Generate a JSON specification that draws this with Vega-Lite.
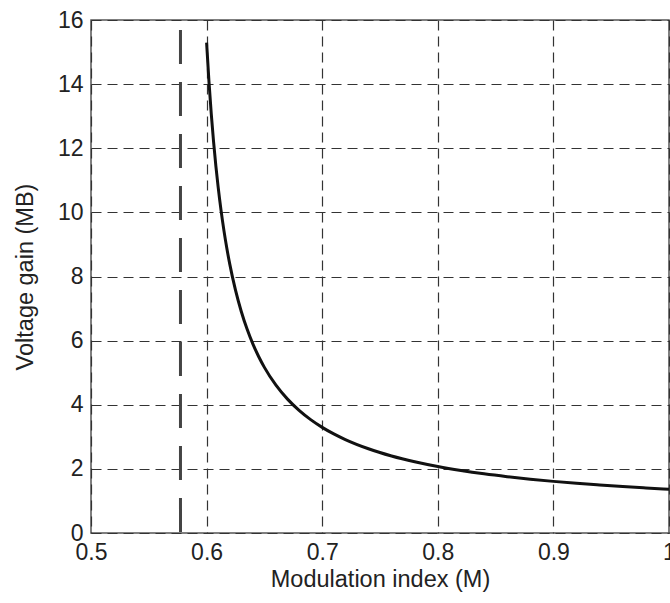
{
  "$schema": "https://vega.github.io/schema/vega-lite/v6.json",
  "width": 578,
  "height": 513,
  "autosize": {"type": "none"},
  "padding": {"left": 91, "top": 20, "right": 1, "bottom": 70},
  "background": "white",
  "config": {
    "view": {"stroke": "#555555", "strokeWidth": 1.5},
    "font": "Liberation Sans",
    "axis": {
      "labelFont": "Liberation Sans",
      "titleFont": "Liberation Sans",
      "labelFontSize": 23,
      "titleFontSize": 23.5,
      "titleFontWeight": "normal",
      "labelColor": "#222222",
      "titleColor": "#222222",
      "domain": false,
      "ticks": false,
      "grid": true,
      "gridColor": "#333333",
      "gridWidth": 1.2,
      "gridDash": [10, 6],
      "gridOpacity": 1,
      "labelFlush": false,
      "labelOverlap": false
    }
  },
  "datasets": {
    "curve": [
      {"M": 0.6, "G": 15.294},
      {"M": 0.602, "G": 14.1},
      {"M": 0.604, "G": 13.085},
      {"M": 0.606, "G": 12.212},
      {"M": 0.608, "G": 11.453},
      {"M": 0.61, "G": 10.787},
      {"M": 0.6125, "G": 10.061},
      {"M": 0.615, "G": 9.431},
      {"M": 0.6175, "G": 8.88},
      {"M": 0.62, "G": 8.393},
      {"M": 0.625, "G": 7.573},
      {"M": 0.63, "G": 6.908},
      {"M": 0.635, "G": 6.359},
      {"M": 0.64, "G": 5.898},
      {"M": 0.645, "G": 5.505},
      {"M": 0.65, "G": 5.166},
      {"M": 0.66, "G": 4.61},
      {"M": 0.67, "G": 4.175},
      {"M": 0.68, "G": 3.825},
      {"M": 0.69, "G": 3.536},
      {"M": 0.7, "G": 3.295},
      {"M": 0.71, "G": 3.09},
      {"M": 0.72, "G": 2.914},
      {"M": 0.74, "G": 2.627},
      {"M": 0.76, "G": 2.402},
      {"M": 0.78, "G": 2.222},
      {"M": 0.8, "G": 2.074},
      {"M": 0.82, "G": 1.951},
      {"M": 0.84, "G": 1.846},
      {"M": 0.86, "G": 1.757},
      {"M": 0.88, "G": 1.679},
      {"M": 0.9, "G": 1.61},
      {"M": 0.92, "G": 1.55},
      {"M": 0.94, "G": 1.497},
      {"M": 0.96, "G": 1.448},
      {"M": 0.98, "G": 1.405},
      {"M": 1.0, "G": 1.366}
    ],
    "limit": [{"M": 0.5774, "top": 16, "bottom": 0}]
  },
  "layer": [
    {
      "data": {"name": "curve"},
      "mark": {"type": "line", "color": "#111111", "strokeWidth": 3, "interpolate": "monotone"},
      "encoding": {
        "x": {
          "field": "M", "type": "quantitative",
          "scale": {"domain": [0.5, 1.0], "nice": false, "zero": false},
          "axis": {"values": [0.5, 0.6, 0.7, 0.8, 0.9, 1], "labelExpr": "datum.value == 1 ? '1' : format(datum.value, '.1f')", "title": "Modulation index (M)", "labelPadding": 8, "titlePadding": 3}
        },
        "y": {
          "field": "G", "type": "quantitative",
          "scale": {"domain": [0, 16], "nice": false},
          "axis": {"values": [0, 2, 4, 6, 8, 10, 12, 14, 16], "title": "Voltage gain (MB)", "labelPadding": 8, "titlePadding": 20}
        }
      }
    },
    {
      "data": {"name": "limit"},
      "mark": {"type": "rule", "color": "#444444", "strokeWidth": 3, "strokeDash": [34, 18], "strokeDashOffset": 42},
      "encoding": {
        "x": {"field": "M", "type": "quantitative"},
        "y": {"field": "top", "type": "quantitative"},
        "y2": {"field": "bottom"}
      }
    }
  ]
}
